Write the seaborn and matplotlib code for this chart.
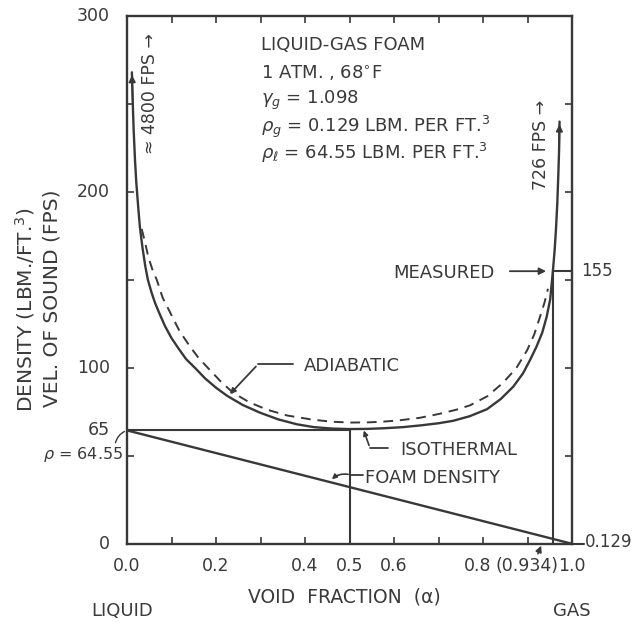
import numpy as np
import pandas as pd
import matplotlib
matplotlib.use("Agg")
import matplotlib.pyplot as plt
import matplotlib.transforms as mtrans
import seaborn as sns

# ---------------- data ----------------
alpha_iso = [0.011, 0.013, 0.015, 0.018, 0.021, 0.025, 0.029, 0.035, 0.041,
             0.047, 0.055, 0.063, 0.072, 0.085, 0.100, 0.116, 0.133, 0.153,
             0.175, 0.200, 0.225, 0.260, 0.299, 0.340, 0.382, 0.420, 0.460,
             0.500, 0.540, 0.580, 0.620, 0.660, 0.700, 0.733, 0.770, 0.809,
             0.840, 0.868, 0.890, 0.906, 0.920, 0.933, 0.943, 0.951, 0.954,
             0.957, 0.961, 0.964, 0.967, 0.969, 0.971, 0.972]
vel_iso = [268, 250, 235, 218, 205, 192, 180, 168, 158,
           150, 143, 137, 131.5, 124, 117, 111, 105, 100,
           94.2, 88.8, 84.2, 79, 74.6, 70.8, 68.0, 66.4, 65.6,
           65.3, 65.4, 65.8, 66.4, 67.4, 68.6, 70.0, 72.6, 76.6,
           82.4, 89.4, 97, 104.7, 112, 120, 129, 139, 147,
           155, 167, 179, 194, 208, 224, 240]

alpha_adi = [0.033, 0.040, 0.048, 0.057, 0.067, 0.080, 0.097, 0.118, 0.142,
             0.160, 0.182, 0.210, 0.238, 0.275, 0.315, 0.360, 0.418, 0.460,
             0.500, 0.540, 0.569, 0.610, 0.658, 0.703, 0.740, 0.771, 0.810,
             0.845, 0.875, 0.899, 0.915, 0.928, 0.938, 0.946]
vel_adi = [179, 172, 163, 156, 150, 140, 131.5, 121, 112,
           106, 100, 92.5, 86, 80.5, 76.3, 73, 70.6, 69.5,
           69.0, 69.1, 69.4, 70.2, 71.7, 74.0, 76.3, 78.8, 84,
           91.6, 100, 110, 119, 129, 137, 145]

alpha_foam = [0.0, 1.0]
rho_foam = [64.55, 0.129]

alpha_measured = 0.957     # where the measured line is drawn
vel_measured = 155
alpha_min = 0.5
vel_min = 65

xtick_pos = [0.0, 0.2, 0.4, 0.5, 0.6, 0.8, 0.934, 1.0]
xtick_labels = ["0.0", "0.2", "0.4", "0.5", "0.6", "0.8", "(0.934)", "1.0"]
ytick_pos = [0, 65, 100, 200, 300]
ytick_labels = ["0", "65", "100", "200", "300"]

# ---------------- style ----------------
sns.set_theme(style="ticks")
plt.rcParams['font.family'] = ['DejaVu Sans']
INK = "#383838"
TXT = "#3a3a3a"
plt.rcParams['text.color'] = TXT
plt.rcParams['mathtext.fontset'] = 'dejavusans'

fig = plt.figure(figsize=(6.35, 6.24), dpi=100)
fig.patch.set_facecolor("white")
ax = fig.add_axes([0.2, 0.1282, 0.7008, 0.8462])
ax.set_facecolor("white")
ax.set_xlim(0, 1.0)
ax.set_ylim(0, 300)

df_iso = pd.DataFrame({"alpha": alpha_iso, "vel": vel_iso})
df_adi = pd.DataFrame({"alpha": alpha_adi, "vel": vel_adi})
df_foam = pd.DataFrame({"alpha": alpha_foam, "rho": rho_foam})

sns.lineplot(data=df_iso, x="alpha", y="vel", ax=ax, color=INK, lw=1.7,
             estimator=None, sort=False)
sns.lineplot(data=df_adi, x="alpha", y="vel", ax=ax, color=INK, lw=1.4,
             estimator=None, sort=False, linestyle=(0, (5, 3.5)))
sns.lineplot(data=df_foam, x="alpha", y="rho", ax=ax, color=INK, lw=1.7,
             estimator=None, sort=False)

# arrowheads at the ends of the isothermal curve
ax.annotate("", xy=(alpha_iso[0], vel_iso[0]), xytext=(alpha_iso[1], vel_iso[1]),
            arrowprops=dict(arrowstyle="-|>", color=INK, lw=1.2, mutation_scale=10))
ax.annotate("", xy=(alpha_iso[-1], vel_iso[-1]), xytext=(alpha_iso[-2], vel_iso[-2]),
            arrowprops=dict(arrowstyle="-|>", color=INK, lw=1.2, mutation_scale=10))

# reference lines
ax.plot([0, alpha_min], [vel_min, vel_min], color=INK, lw=1.5)
ax.plot([alpha_min, alpha_min], [0, vel_min], color=INK, lw=1.5)
ax.plot([alpha_measured, alpha_measured], [0, vel_measured], color=INK, lw=1.5)
ax.plot([alpha_measured, 1.0], [vel_measured, vel_measured], color=INK, lw=1.5)
ax.plot([1.0, 1.027], [rho_foam[1], rho_foam[1]], color=INK, lw=1.5, clip_on=False)

# spines & ticks
for s in ax.spines.values():
    s.set_color(INK)
    s.set_linewidth(1.7)
ax.set_xticks(np.arange(0, 1.01, 0.1))
ax.set_yticks(np.arange(0, 301, 50))
ax.tick_params(direction="in", length=5, width=1.2, color=INK,
               top=True, right=True, labelbottom=False, labelleft=False)
ax.set_xlabel("")
ax.set_ylabel("")

xt = ax.get_xaxis_transform()
yt = ax.get_yaxis_transform()
label_dx = {"(0.934)": -16, "0.8": -5}
for p, lab in zip(xtick_pos, xtick_labels):
    off = mtrans.offset_copy(xt, fig=fig, x=label_dx.get(lab, 0), y=0, units="dots")
    ax.text(p, -0.042, lab, transform=off, ha="center", va="center",
            fontsize=12.5, color=TXT)
for p, lab in zip(ytick_pos, ytick_labels):
    ax.text(-0.038, p, lab, transform=yt, ha="right", va="center",
            fontsize=12.5, color=TXT)

# rho = 64.55 note at the left
ax.text(-0.008, 51, r"$\rho$ = 64.55", ha="right", va="center", fontsize=11.5,
        color=TXT)
ax.annotate("", xy=(0.0, rho_foam[0]), xytext=(-0.027, 56),
            arrowprops=dict(arrowstyle="-", color=INK, lw=1.0,
                            connectionstyle="arc3,rad=-0.3"),
            annotation_clip=False)

# right side labels
ax.text(1.02, vel_measured, "155", ha="left", va="center", fontsize=12, color=TXT,
        clip_on=False)
ax.text(1.03, 1.0, "0.129", ha="left", va="center", fontsize=12, color=TXT,
        clip_on=False)

# (0.934) arrow
ax.annotate("", xy=(0.933, 0.5), xytext=(0.921, -7.0),
            arrowprops=dict(arrowstyle="-|>", color=INK, lw=1.2, mutation_scale=9),
            annotation_clip=False)

# measured
ax.text(0.827, 154, "MEASURED", ha="right", va="center", fontsize=13, color=TXT)
ax.annotate("", xy=(0.948, 155), xytext=(0.854, 155),
            arrowprops=dict(arrowstyle="-|>", color=INK, lw=1.3, mutation_scale=10))

# top-end labels
ax.text(0.052, 256, "≈ 4800 FPS →", rotation=90, ha="center", va="center",
        fontsize=12.5, color=TXT)
ax.text(0.930, 227, "726 FPS →", rotation=90, ha="center", va="center",
        fontsize=12.5, color=TXT)

# adiabatic leader
ax.annotate("", xy=(0.227, 84), xytext=(0.294, 102),
            arrowprops=dict(arrowstyle="-|>", color=INK, lw=1.3, mutation_scale=8))
ax.plot([0.294, 0.373], [102, 102], color=INK, lw=1.3)
ax.text(0.398, 101, "ADIABATIC", ha="left", va="center", fontsize=13, color=TXT)

# isothermal leader
ax.annotate("", xy=(0.530, 66), xytext=(0.546, 54.5),
            arrowprops=dict(arrowstyle="-|>", color=INK, lw=1.2, mutation_scale=7))
ax.plot([0.546, 0.587], [54.5, 54.5], color=INK, lw=1.3)
ax.text(0.613, 53.5, "ISOTHERMAL", ha="left", va="center", fontsize=13, color=TXT)

# foam density leader
ax.annotate("", xy=(0.456, 35.6), xytext=(0.503, 39.3),
            arrowprops=dict(arrowstyle="-|>", color=INK, lw=1.2, mutation_scale=7,
                            connectionstyle="arc3,rad=0.3"))
ax.plot([0.503, 0.53], [39.3, 39.3], color=INK, lw=1.3)
ax.text(0.535, 37.5, "FOAM DENSITY", ha="left", va="center", fontsize=13, color=TXT)

# parameter block
block = ["LIQUID-GAS FOAM",
         "1 ATM. , 68$^{\\circ}$F",
         "$\\gamma_g$ = 1.098",
         "$\\rho_g$ = 0.129 LBM. PER FT.$^3$",
         "$\\rho_\\ell$ = 64.55 LBM. PER FT.$^3$"]
block_y = [45, 73, 100, 127, 153]
for s, py in zip(block, block_y):
    fig.text(261 / 635, 1 - py / 624, s, ha="left", va="center", fontsize=13,
             color=TXT)

# axis titles
fig.text(25 / 635, 1 - 310 / 624, "DENSITY (LBM./FT.$^3$)", rotation=90,
         ha="center", va="center", fontsize=14.5, color=TXT)
fig.text(52 / 635, 1 - 298 / 624, "VEL. OF SOUND (FPS)", rotation=90,
         ha="center", va="center", fontsize=14.5, color=TXT)
fig.text(344 / 635, 1 - 597 / 624, "VOID  FRACTION  (α)", ha="center", va="center",
         fontsize=13.5, color=TXT)
fig.text(122 / 635, 1 - 611 / 624, "LIQUID", ha="center", va="center",
         fontsize=13, color=TXT)
fig.text(572 / 635, 1 - 611 / 624, "GAS", ha="center", va="center",
         fontsize=13, color=TXT)

fig.savefig("out.png", dpi=100, facecolor="white")
